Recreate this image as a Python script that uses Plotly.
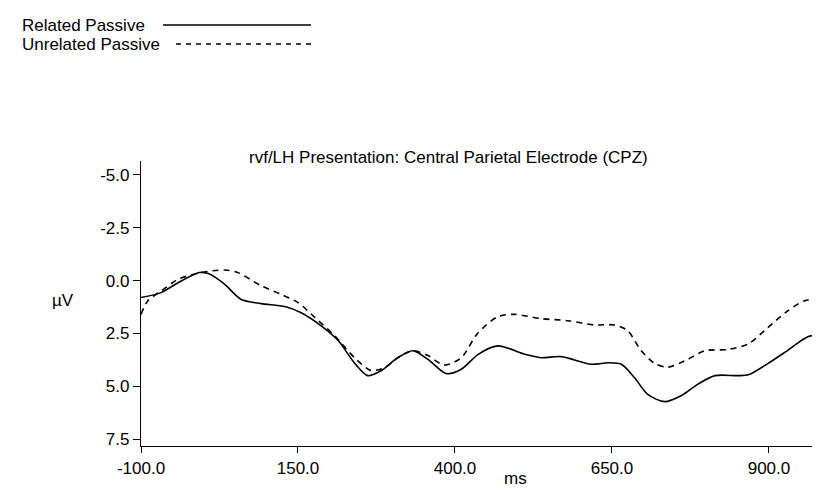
import plotly.graph_objects as go

# Related Passive (solid)
rel_ms = [-100, -68, -41, -7, 7, 33, 59, 91, 129, 155, 187, 214, 240, 261, 282, 309, 333, 357,
          386, 410, 437, 468, 511, 537, 569, 617, 644, 665, 686, 707, 734, 760, 787, 814, 851,
          867, 898, 930, 962, 994]
rel_uv = [0.8, 0.57, 0.1, -0.38, -0.33, 0.17, 0.88, 1.09, 1.23, 1.52, 2.14, 2.84, 3.9, 4.5, 4.27,
          3.65, 3.32, 3.73, 4.4, 4.2, 3.49, 3.09, 3.49, 3.65, 3.6, 3.96, 3.89, 3.96, 4.6, 5.39,
          5.73, 5.45, 4.9, 4.5, 4.5, 4.46, 3.93, 3.3, 2.66, 2.5]

# Unrelated Passive (dashed)
unr_ms = [-100, -89, -68, -41, -4, 33, 54, 91, 123, 150, 177, 208, 240, 266, 288, 309, 333, 357,
          383, 410, 436, 468, 495, 537, 580, 622, 654, 675, 696, 718, 739, 766, 798, 835, 867,
          898, 930, 957, 994]
unr_uv = [1.6, 0.95, 0.5, -0.06, -0.38, -0.5, -0.38, 0.24, 0.65, 1.04, 1.75, 2.6, 3.65, 4.25,
          4.12, 3.65, 3.32, 3.55, 4.0, 3.65, 2.5, 1.71, 1.6, 1.8, 1.9, 2.1, 2.1, 2.37, 3.3, 3.92,
          4.1, 3.8, 3.32, 3.26, 3.0, 2.23, 1.43, 0.95, 0.84]

x_ticks = [-100, 150, 400, 650, 900]
x_ticklabels = ["-100.0", "150.0", "400.0", "650.0", "900.0"]
y_ticks = [-5, -2.5, 0, 2.5, 5, 7.5]
y_ticklabels = ["-5.0", "-2.5", "0.0", "2.5", "5.0", "7.5"]

FONT = "Liberation Sans, Arial, sans-serif"
W, H = 820, 492
L, R, T, B = 133, 0, 153, 54

fig = go.Figure()
fig.add_trace(go.Scatter(x=rel_ms, y=rel_uv, mode="lines", name="Related Passive",
                         line=dict(color="black", width=1.6, shape="spline", smoothing=0.8),
                         showlegend=False))
fig.add_trace(go.Scatter(x=unr_ms, y=unr_uv, mode="lines", name="Unrelated Passive",
                         line=dict(color="black", width=1.6, dash="6px,5px", shape="spline", smoothing=0.8),
                         showlegend=False))


def ax(px):
    return (px - L) / (W - L - R)


def ay(py):
    return (H - B - py) / (H - T - B)


# legend (text left, line sample right)
shapes = [
    dict(type="line", xref="paper", yref="paper", x0=ax(155), x1=ax(303), y0=ay(17), y1=ay(17),
         line=dict(color="black", width=1.4)),
    dict(type="line", xref="paper", yref="paper", x0=ax(168), x1=ax(305), y0=ay(36), y1=ay(36),
         line=dict(color="black", width=1.4, dash="5px,5px")),
]

annotations = [
    dict(text="Related Passive", x=ax(12), y=ay(17), xref="paper", yref="paper",
         xanchor="left", yanchor="middle", showarrow=False, font=dict(size=17, color="black", family=FONT)),
    dict(text="Unrelated Passive", x=ax(12), y=ay(36), xref="paper", yref="paper",
         xanchor="left", yanchor="middle", showarrow=False, font=dict(size=17, color="black", family=FONT)),
    dict(text="rvf/LH Presentation: Central Parietal Electrode (CPZ)", x=ax(440), y=ay(149),
         xref="paper", yref="paper", xanchor="center", yanchor="middle", showarrow=False,
         font=dict(size=17, color="black", family=FONT)),
    dict(text="µV", x=ax(68), y=ay(292), xref="paper", yref="paper", xanchor="right", yanchor="middle",
         showarrow=False, font=dict(size=17, color="black", family=FONT)),
    dict(text="ms", x=ax(507), y=ay(470), xref="paper", yref="paper", xanchor="center", yanchor="middle",
         showarrow=False, font=dict(size=17, color="black", family=FONT)),
]

fig.update_layout(
    width=W, height=H,
    margin=dict(l=L, r=R, t=T, b=B, pad=0),
    paper_bgcolor="white", plot_bgcolor="white",
    font=dict(family=FONT, size=17, color="black"),
    shapes=shapes, annotations=annotations,
    xaxis=dict(range=[-100, 994], tickvals=x_ticks, ticktext=x_ticklabels,
               showline=True, linecolor="black", linewidth=1.2, ticks="outside", ticklen=6,
               tickcolor="black", showgrid=False, zeroline=False, fixedrange=True),
    yaxis=dict(range=[7.83, -5.66], tickvals=y_ticks, ticktext=y_ticklabels,
               showline=True, linecolor="black", linewidth=1.2, ticks="outside", ticklen=7,
               tickcolor="black", showgrid=False, zeroline=False, fixedrange=True),
)

fig.write_html("out.html")
